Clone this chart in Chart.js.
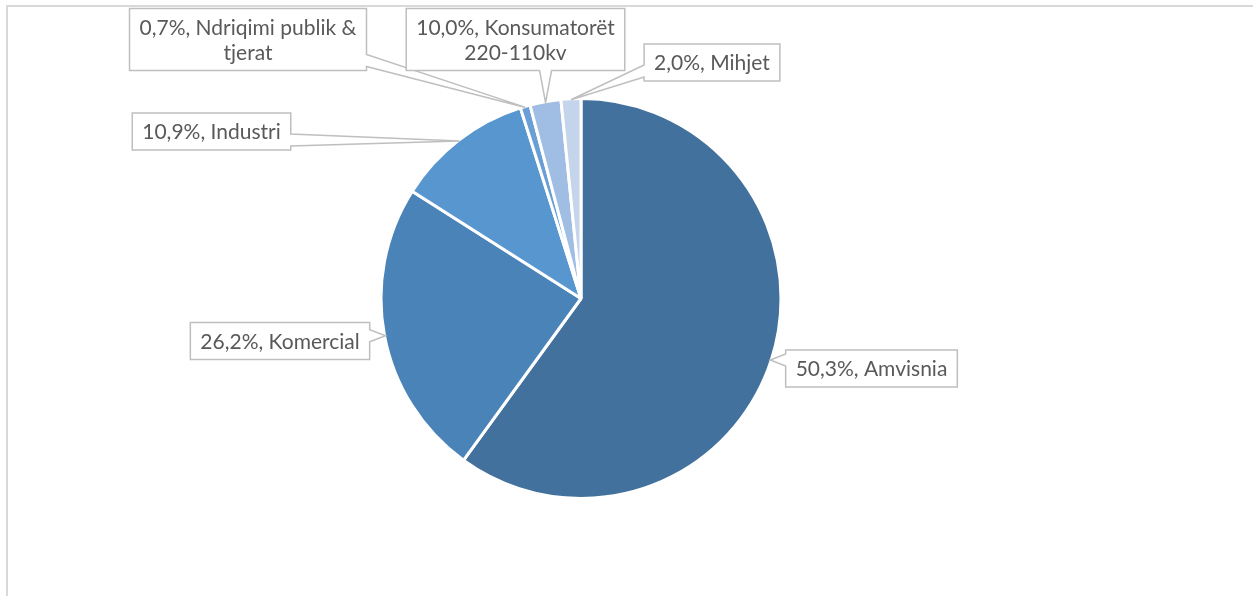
<!DOCTYPE html>
<html>
<head>
<meta charset="utf-8">
<script src="https://cdn.jsdelivr.net/npm/chart.js@4.4.0/dist/chart.umd.min.js"></script>
<style>
  html, body { margin: 0; padding: 0; background: #fff; }
  #wrap { position: relative; width: 1253px; height: 596px; overflow: hidden; }
  #frame { position: absolute; left: 6px; top: 5px; width: 1400px; height: 800px;
           border-left: 2px solid #d9d9d9; border-top: 2px solid #d9d9d9; }
  canvas { position: absolute; left: 0; top: 0; }
</style>
</head>
<body>
<div id="wrap">
  <div id="frame"></div>
  <canvas id="pieChart" width="1253" height="596"></canvas>
</div>
<script>
// categories, clockwise from 12 o'clock
const categories = ['Amvisnia', 'Komercial', 'Industri', 'Ndriqimi publik & tjerat', 'Konsumatorët 220-110kv', 'Mihjet'];
// slice sizes as drawn in the picture (% of circle)
const sliceValues = [60.0, 24.0, 11.1, 0.8, 2.5, 1.6];
// percentages printed in the data labels
const labelPercents = ['50,3%', '26,2%', '10,9%', '0,7%', '10,0%', '2,0%'];

const sliceColors = ['#41719c', '#4a83b8', '#5796cf', '#6a9fd6', '#a0bde3', '#c4d4ea'];

// callout box layout: centre and max text width (for wrapping)
const labelBoxes = [
    { cx: 871.5, cy: 368.5, maxW: 400 },
    { cx: 280,   cy: 341,   maxW: 400 },
    { cx: 211.5, cy: 131.5, maxW: 400 },
    { cx: 248,   cy: 39.5,  maxW: 240 },
    { cx: 515.5, cy: 39.5,  maxW: 240 },
    { cx: 712,   cy: 62.5,  maxW: 400 }
];

const LABEL_FONT = '21px Lato, "Open Sans", sans-serif';
const PAD_X = 10, PAD_Y = 6, LINE_H = 25, HALF_BASE = 6;

function wrapText(ctx, text, maxW) {
    const words = text.split(' ');
    const lines = [];
    let cur = '';
    words.forEach(w => {
        const test = cur ? cur + ' ' + w : w;
        if (cur && ctx.measureText(test).width > maxW) {
            lines.push(cur);
            cur = w;
        } else {
            cur = test;
        }
    });
    if (cur) lines.push(cur);
    return lines;
}

// draws Excel-style callout labels pointing at each slice
const calloutPlugin = {
    id: 'callouts',
    afterDraw(chart) {
        const ctx = chart.ctx;
        const arcs = chart.getDatasetMeta(0).data;
        ctx.save();
        ctx.font = LABEL_FONT;
        arcs.forEach((arc, i) => {
            const p = arc.getProps(['x', 'y', 'startAngle', 'endAngle', 'outerRadius'], true);
            const mid = (p.startAngle + p.endAngle) / 2;
            const ax = p.x + Math.cos(mid) * (p.outerRadius - 1);
            const ay = p.y + Math.sin(mid) * (p.outerRadius - 1);

            const box = labelBoxes[i];
            const lines = wrapText(ctx, labelPercents[i] + ', ' + categories[i], box.maxW);
            const textW = Math.max(...lines.map(l => ctx.measureText(l).width));
            const w = textW + 2 * PAD_X;
            const h = lines.length * LINE_H + 2 * PAD_Y;
            const l = box.cx - w / 2, t = box.cy - h / 2, r = l + w, b = t + h;

            let side;
            if (ax < l) side = 'left';
            else if (ax > r) side = 'right';
            else if (ay > b) side = 'bottom';
            else side = 'top';

            const clamp = (v, lo, hi) => Math.max(lo, Math.min(hi, v));
            const pts = [[l, t]];
            if (side === 'top') {
                const c = clamp(ax, l + HALF_BASE + 4, r - HALF_BASE - 4);
                pts.push([c - HALF_BASE, t], [ax, ay], [c + HALF_BASE, t]);
            }
            pts.push([r, t]);
            if (side === 'right') {
                const c = clamp(ay, t + HALF_BASE + 4, b - HALF_BASE - 4);
                pts.push([r, c - HALF_BASE], [ax, ay], [r, c + HALF_BASE]);
            }
            pts.push([r, b]);
            if (side === 'bottom') {
                const c = clamp(ax, l + HALF_BASE + 4, r - HALF_BASE - 4);
                pts.push([c + HALF_BASE, b], [ax, ay], [c - HALF_BASE, b]);
            }
            pts.push([l, b]);
            if (side === 'left') {
                const c = clamp(ay, t + HALF_BASE + 4, b - HALF_BASE - 4);
                pts.push([l, c + HALF_BASE], [ax, ay], [l, c - HALF_BASE]);
            }

            ctx.beginPath();
            pts.forEach((pt, k) => k === 0 ? ctx.moveTo(pt[0], pt[1]) : ctx.lineTo(pt[0], pt[1]));
            ctx.closePath();
            ctx.fillStyle = '#ffffff';
            ctx.fill();
            ctx.lineWidth = 1.5;
            ctx.strokeStyle = '#bfbfbf';
            ctx.stroke();

            ctx.fillStyle = '#595959';
            ctx.textAlign = 'center';
            ctx.textBaseline = 'middle';
            lines.forEach((line, k) => {
                ctx.fillText(line, box.cx, t + PAD_Y + LINE_H * (k + 0.5) + 1);
            });
        });
        ctx.restore();
    }
};

const ctx = document.getElementById('pieChart');
new Chart(ctx, {
    type: 'pie',
    data: {
        labels: categories,
        datasets: [{
            data: sliceValues,
            backgroundColor: sliceColors,
            borderColor: '#ffffff',
            borderWidth: 3
        }]
    },
    options: {
        responsive: false,
        animation: false,
        layout: {
            padding: { top: 97, bottom: 96, left: 100, right: 191 }
        },
        plugins: {
            legend: { display: false },
            tooltip: { enabled: false }
        }
    },
    plugins: [calloutPlugin]
});
</script>
</body>
</html>
